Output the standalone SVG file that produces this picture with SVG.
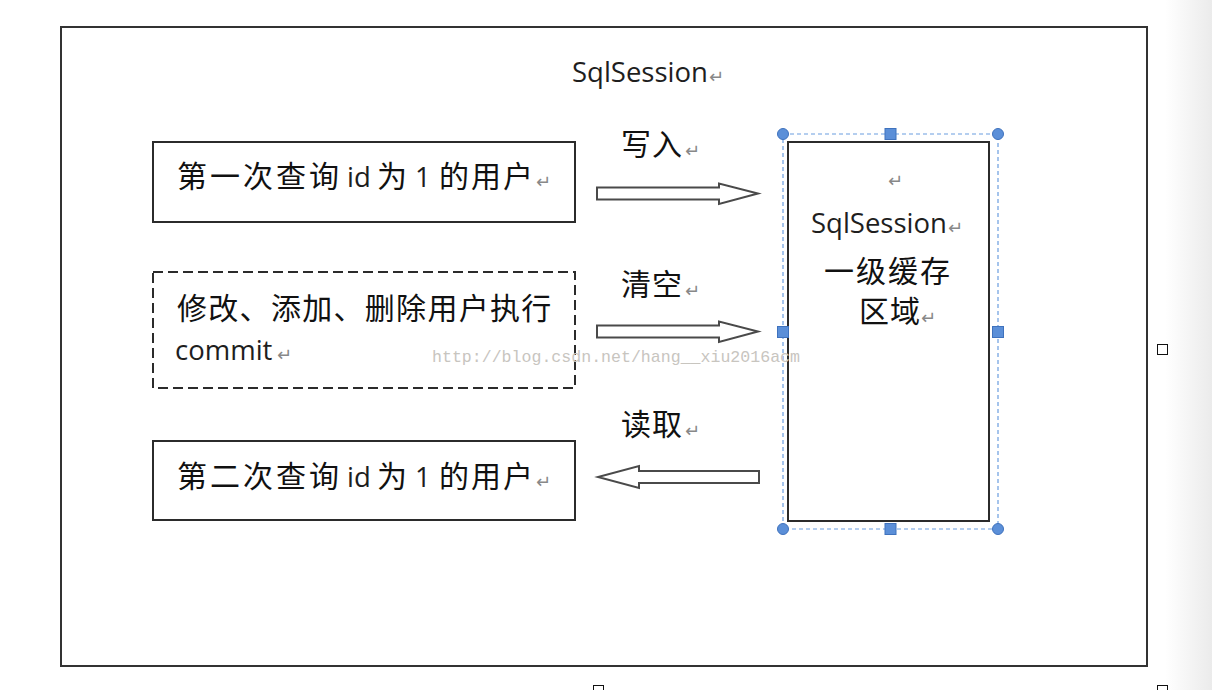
<svg xmlns="http://www.w3.org/2000/svg" width="1212" height="690" viewBox="0 0 1212 690">
  <defs>
    <linearGradient id="edge" x1="0" y1="0" x2="1" y2="0">
      <stop offset="0" stop-color="#ffffff"/>
      <stop offset="1" stop-color="#ebebeb"/>
    </linearGradient>
    <style>
      .box { fill: #ffffff; stroke: #2b2b2b; stroke-width: 2; }
      .dash { fill: #ffffff; stroke: #2b2b2b; stroke-width: 2; stroke-dasharray: 10 5; }
      .cjk { font-family: "Noto Sans CJK SC", "Noto Sans", sans-serif; font-size: 30px; fill: #111111; }
      .lat { font-family: "Open Sans", "Liberation Sans", "Noto Sans CJK SC", sans-serif; font-size: 27.5px; fill: #1e1e1e; }
      .pm { font-family: "DejaVu Sans", sans-serif; font-size: 18px; fill: #888888; }
      .arrow { fill: #ffffff; stroke: #4a4a4a; stroke-width: 2; stroke-linejoin: miter; }
      .sel { fill: none; stroke: #6a9de0; stroke-width: 1.2; stroke-dasharray: 4 3; }
      .hc { fill: #5b8fd8; stroke: #3f72bd; stroke-width: 1; }
      .hs { fill: #5b8fd8; stroke: #3f72bd; stroke-width: 1; }
      .tiny { fill: #ffffff; stroke: #111111; stroke-width: 1; }
      .wm { font-family: "Liberation Mono", "DejaVu Sans Mono", monospace; font-size: 16.6px; fill: #c8c5bf; }
    </style>
  </defs>

  <rect x="0" y="0" width="1212" height="690" fill="#ffffff"/>
  <rect x="1165" y="0" width="47" height="690" fill="url(#edge)"/>

  <g id="frame">
    <rect x="61" y="27" width="1086" height="639" fill="#ffffff" stroke="#333333" stroke-width="2"/>
    <text class="lat" x="572" y="82">SqlSession</text>
    <text class="pm" x="709" y="83">↵</text>
  </g>

  <g id="node-query1">
    <rect class="box" x="153" y="142" width="422" height="80"/>
    <text class="cjk" y="187"><tspan x="177 210 243 276 309">第一次查询</tspan></text>
    <text class="lat" x="347" y="187">id</text>
    <text class="cjk" x="377" y="187">为</text>
    <text class="lat" x="415" y="187">1</text>
    <text class="cjk" y="187"><tspan x="439 471 503">的用户</tspan></text>
    <text class="pm" x="536" y="188">↵</text>
  </g>

  <g id="node-modify">
    <rect class="dash" x="153" y="272" width="422" height="116"/>
    <text class="cjk" y="319"><tspan x="177 208.3 239.6 270.9 302.2 333.5 364.8 396.1 427.4 458.7 490 521.3">修改、添加、删除用户执行</tspan></text>
    <text class="lat" x="175" y="360">commit</text>
    <text class="pm" x="277" y="361">↵</text>
  </g>

  <g id="node-query2">
    <rect class="box" x="153" y="441" width="422" height="79"/>
    <text class="cjk" y="487"><tspan x="177 210 243 276 309">第二次查询</tspan></text>
    <text class="lat" x="347" y="487">id</text>
    <text class="cjk" x="377" y="487">为</text>
    <text class="lat" x="415" y="487">1</text>
    <text class="cjk" y="487"><tspan x="439 471 503">的用户</tspan></text>
    <text class="pm" x="536" y="488">↵</text>
  </g>

  <g id="node-cache">
    <rect class="box" x="788" y="142" width="201" height="379"/>
    <text class="pm" x="888" y="187">↵</text>
    <text class="lat" x="811" y="233">SqlSession</text>
    <text class="pm" x="948" y="234">↵</text>
    <text class="cjk" y="282"><tspan x="824 856 888 920">一级缓存</tspan></text>
    <text class="cjk" y="322"><tspan x="859 890">区域</tspan></text>
    <text class="pm" x="921" y="324">↵</text>
    <g id="selection">
      <rect class="sel" x="783" y="134" width="215" height="395"/>
      <circle class="hc" cx="783" cy="134" r="5.5"/>
      <circle class="hc" cx="998" cy="134" r="5.5"/>
      <circle class="hc" cx="783" cy="529" r="5.5"/>
      <circle class="hc" cx="998" cy="529" r="5.5"/>
      <rect class="hs" x="885" y="128.5" width="11" height="11"/>
      <rect class="hs" x="885" y="523.5" width="11" height="11"/>
      <rect class="hs" x="777.5" y="326.5" width="11" height="11"/>
      <rect class="hs" x="992.5" y="326.5" width="11" height="11"/>
    </g>
  </g>

  <g id="connectors">
    <polygon class="arrow" points="597,187.5 719,187.5 719,183.5 758,193.5 719,204 719,199.5 597,199.5"/>
    <polygon class="arrow" points="597,325.5 719,325.5 719,321.5 758,331.5 719,342 719,337.5 597,337.5"/>
    <polygon class="arrow" points="759,471 639,471 639,466 598,477 639,488 639,483 759,483"/>
    <text class="cjk" y="155"><tspan x="621 652">写入</tspan></text>
    <text class="pm" x="685" y="157">↵</text>
    <text class="cjk" y="295"><tspan x="621 652">清空</tspan></text>
    <text class="pm" x="685" y="297">↵</text>
    <text class="cjk" y="435"><tspan x="621 652">读取</tspan></text>
    <text class="pm" x="685" y="437">↵</text>
  </g>

  <text class="wm" x="432" y="362" textLength="368" lengthAdjust="spacingAndGlyphs">http://blog.csdn.net/hang__xiu2016acm</text>

  <g id="handles">
    <rect class="tiny" x="1157.5" y="344.5" width="10" height="10"/>
    <rect class="tiny" x="593.5" y="685.5" width="10" height="10"/>
    <rect class="tiny" x="1157.5" y="685.5" width="10" height="10"/>
  </g>
</svg>
